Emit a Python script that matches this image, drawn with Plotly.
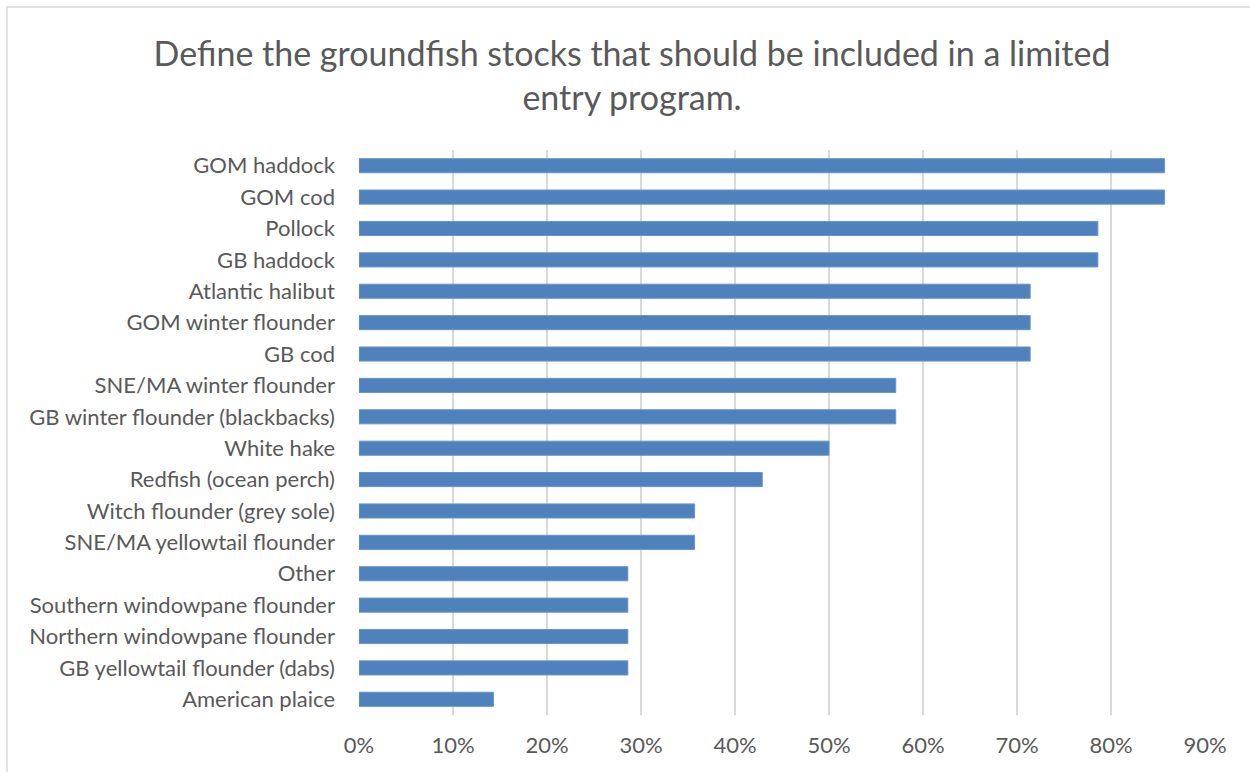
import plotly.graph_objects as go

# Survey results: share of respondents selecting each stock
stocks = [
    "GOM haddock", "GOM cod", "Pollock", "GB haddock", "Atlantic halibut",
    "GOM winter flounder", "GB cod", "SNE/MA winter flounder",
    "GB winter flounder (blackbacks)", "White hake", "Redfish (ocean perch)",
    "Witch flounder (grey sole)", "SNE/MA yellowtail flounder", "Other",
    "Southern windowpane flounder", "Northern windowpane flounder",
    "GB yellowtail flounder (dabs)", "American plaice",
]
shares = [
    0.857, 0.857, 0.786, 0.786, 0.714, 0.714, 0.714, 0.571, 0.571, 0.500,
    0.429, 0.357, 0.357, 0.286, 0.286, 0.286, 0.286, 0.143,
]
tick_vals = [0, 0.1, 0.2, 0.3, 0.4, 0.5, 0.6, 0.7, 0.8, 0.9]
tick_text = ["0%", "10%", "20%", "30%", "40%", "50%", "60%", "70%", "80%", "90%"]

FONT = "Lato, 'Open Sans', sans-serif"
TEXT = "#595959"

W, H = 1250, 772
L, R, T, B = 359, 45, 150, 57
PW, PH = W - L - R, H - T - B

fig = go.Figure(
    go.Bar(
        x=shares,
        y=stocks,
        orientation="h",
        marker=dict(color="#4F81BD", line=dict(color="#6A94C8", width=1)),
        hoverinfo="x+y",
    )
)

fig.update_layout(
    width=W,
    height=H,
    paper_bgcolor="white",
    plot_bgcolor="white",
    margin=dict(l=L, r=R, t=T, b=B),
    bargap=0.55,
    showlegend=False,
    title=dict(
        text="Define the groundfish stocks that should be included in a limited<br>entry program.",
        x=0.5056,
        xanchor="center",
        xref="container",
        y=1 - 66 / H,
        yanchor="top",
        yref="container",
        font=dict(family=FONT, size=34, color=TEXT),
    ),
    font=dict(family=FONT, size=22, color=TEXT),
    shapes=[
        # chart-area frame (top and left edges fall inside the page)
        dict(
            type="rect", xref="paper", yref="paper",
            x0=(7 - L) / PW, x1=(W + 20 - L) / PW,
            y0=-(B + 20) / PH, y1=(T - 7) / PH + 1,
            line=dict(color="#D9D9D9", width=1.5),
            layer="below",
        )
    ],
)

fig.update_xaxes(
    range=[0, 0.9],
    tickvals=tick_vals,
    ticktext=tick_text,
    showgrid=True,
    gridcolor="#D9D9D9",
    gridwidth=1.5,
    zeroline=False,
    showline=False,
    ticks="",
    ticklabelstandoff=15,
    tickfont=dict(family=FONT, size=22, color=TEXT),
)
fig.update_yaxes(
    categoryorder="array",
    categoryarray=stocks[::-1],
    showgrid=False,
    zeroline=False,
    showline=False,
    ticks="",
    ticklabelstandoff=23,
    tickfont=dict(family=FONT, size=22, color=TEXT),
)

fig.write_html("out.html")
